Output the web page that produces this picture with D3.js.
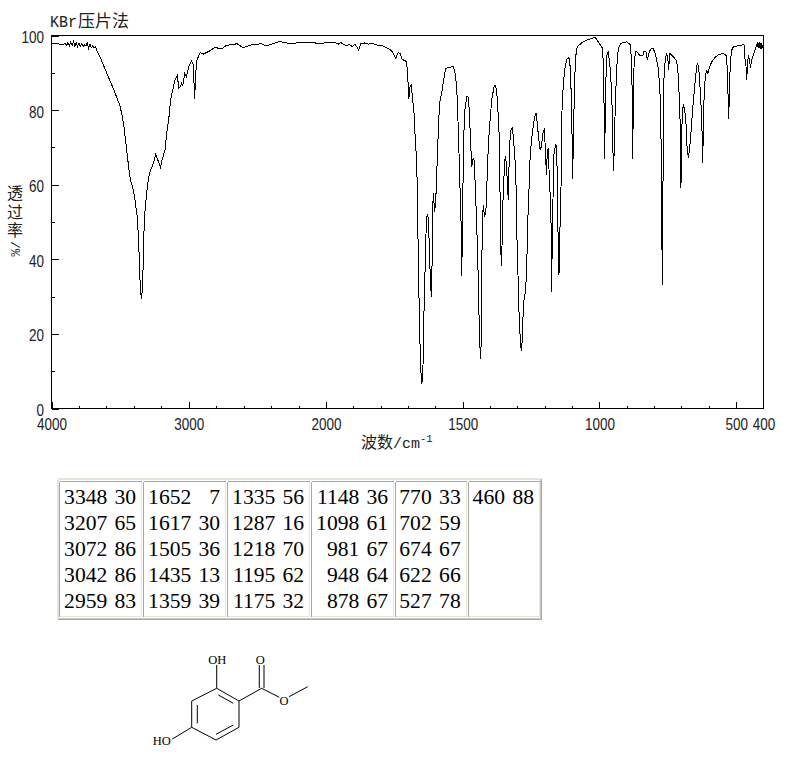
<!DOCTYPE html>
<html><head><meta charset="utf-8">
<script src="https://cdn.jsdelivr.net/npm/d3@7"></script>
<style>
html,body{margin:0;padding:0;background:#fff;overflow:hidden}
svg{display:block}
.tk{font-family:"Liberation Sans",sans-serif;font-size:16.5px;fill:#222}
.cjk{font-family:"Noto Sans CJK SC",sans-serif;fill:#222}
.mono{font-family:"Liberation Mono",monospace;fill:#222}
.cell{font-family:"Liberation Serif",serif;font-size:21.6px;fill:#000}
.atom{font-family:"Liberation Serif",serif;font-size:12.5px;fill:#000}
</style></head><body>
<svg id="c" width="794" height="765"></svg>
<script>
const title = "压片法";
const yTitleChars = ["透","过","率"];
const yTitleUnit = "/%";
const xMajor = [4000,3000,2000,1500,1000,500];
const xMinor = [3800,3600,3400,3200,2800,2600,2400,2200,1900,1800,1700,1600,1400,1300,1200,1100,900,800,700,600];
const xLabelled = [4000,3000,2000,1500,1000,500,400];
const yMajor = [0,20,40,60,80,100];
const yMinor = [10,30,50,70,90];

// [wavenumber, %T]
const spectrum = [
[4000,98.0],[3980,97.9],[3960,97.8],[3940,97.7],[3920,97.6],[3900,97.8],[3890,97.4],[3880,98.1],[3870,97.3],[3860,98.3],[3850,97.3],[3840,98.4],[3830,97.2],[3820,98.2],[3810,97.1],[3800,97.9],[3790,97.0],[3780,97.8],[3770,97.1],[3760,97.5],[3750,97.2],[3740,98.0],[3730,96.6],[3720,97.7],[3710,96.7],[3700,97.3],[3690,96.8],[3680,97.0],[3671,96.1],
[3647,94.3],[3622,92.1],[3586,88.9],[3550,85.8],[3521,83.1],[3501,81.1],[3486,78.7],[3472,75.5],[3452,69.3],[3433,63.1],[3421,60.8],[3404,58.6],[3392,55.9],[3375,51.4],[3367,46.0],[3360,39.8],[3355,34.4],[3349,30.9],[3346,29.5],
[3338,31.7],[3331,39.8],[3324,50.5],[3314,55],[3302,59.4],[3287,63],[3270,64.6],[3258,65.7],[3241,68.1],[3229,67.0],[3205,64.6],[3195,66.6],[3173,69.3],[3161,73.8],[3144,78.2],[3132,82.7],[3117,85.4],[3100,88.1],[3083,89.4],[3073,85.8],[3062,86.2],[3051,87.3],[3044,86.4],[3030,89.8],[3018,88.9],[2996,92.1],[2979,93.1],[2967,92.1],[2957,83.1],[2949,89.9],[2940,93.4],
[2918,95.4],[2894,95.0],[2845,95.9],[2809,96.8],[2760,96.4],[2723,97.4],[2663,97.6],[2651,97.9],[2603,96.7],[2554,97.4],[2469,97.8],[2440,97.2],[2396,97.7],[2335,98.4],[2287,98],[2239,97.9],[2190,98.1],[2093,98.1],[2050,97.8],[2010,98],
[1967,98.1],[1955,97.7],[1946,98.1],[1924,97.2],[1915,97.7],[1904,97],[1894,97.7],[1880,96.1],[1872,97.9],[1857,98],[1845,97.7],[1829,97.9],[1821,97.5],[1796,97.3],[1772,96.5],[1760,95.9],[1745,93.9],[1736,95.4],[1729,95.2],[1721,93.6],[1705,93],[1701,88.9],[1697,83.1],[1693,86.2],[1688,86.7],[1683,82.7],[1678,79.1],
[1674,72.8],[1668,65.7],[1665,53],[1661,33.5],[1656,16.5],[1652,8.5],[1650,6.5],[1646,8.5],[1642,25],[1637,38.9],[1633,50.5],[1629,52.1],[1626,51],[1623,45.1],[1620,38],[1615,29.8],[1612,39.3],[1610,54],[1607,57.7],[1603,52.7],[1599,55],[1591,71],[1585,81.8],[1577,84.5],[1571,87.6],[1562,91.2],[1546,91.5],[1534,91.8],[1528,89.8],[1522,86.2],[1516,74.6],[1510,59.4],[1506,49.6],[1504,35.5],
[1500,49.6],[1498,70.2],[1492,80],[1485,83.6],[1481,83.8],[1476,80],[1471,71.1],[1467,64.8],[1464,66.6],[1459,67],[1455,61.2],[1449,50],[1443,34.4],[1439,20.1],[1435,13.4],[1431,20],[1429,48],[1425,54.5],[1420,51.4],[1415,53.2],[1412,59.4],[1406,71.1],[1400,77.3],[1394,82.7],[1385,86.5],[1379,86.5],[1373,82.7],[1367,73.8],[1364,60.3],[1361,44.3],[1359,38.3],
[1356,44.3],[1354,53.2],[1351,59.4],[1346,66.6],[1343,67.6],[1339,63.9],[1335,57.7],[1333,55.9],[1331,63.9],[1328,71.1],[1323,75.1],[1318,75.3],[1313,71.1],[1308,65.7],[1304,57.7],[1302,46.9],[1298,36.2],[1294,25.5],[1290,19.2],[1286,15.5],[1282,18.3],[1278,28.2],[1270,31.7],[1266,37.6],[1262,50.5],[1258,58],[1253,68.5],[1247,72.8],[1241,76.4],[1235,78.7],[1232,79.3],[1227,76.4],[1223,72.8],[1217,69.5],[1212,70.2],[1207,73.8],[1201,75.1],[1198,69.3],[1195,64.8],[1194,62.6],[1192,66.6],[1188,69.7],[1186,66.6],[1182,60.3],[1178,53.2],[1176,45.1],[1175,31.3],
[1173,42.5],[1170,53.2],[1169,66.6],[1164,69.3],[1159,70.9],[1155,64.8],[1153,49.2],[1149,44.3],[1148,35.7],[1146,44.3],[1141,55.9],[1138,78.2],[1132,87.2],[1126,91.2],[1120,93.6],[1114,94.1],[1109,93.6],[1105,88.9],[1101,77.3],[1098,61.4],[1094,77.3],[1090,88.9],[1087,94.3],[1081,97],[1065,98],[1046,98.8],[1028,99.2],[1016,99.5],[1004,98.3],[988,96.5],
[984,86.7],[981,66.9],[977,86.7],[973,94.7],[968,95.6],[964,93.4],[959,89.8],[954,81.3],[951,69.7],[948,63.6],[946,69.7],[942,81.3],[937,91.2],[931,96.5],[921,97.9],[900,98.3],[888,97.6],[883,93.9],[881,87.6],[878,67],[876,87.6],[872,93.9],[866,95.9],[858,95.2],[851,94.5],[841,94.6],[837,95.8],[830,95.8],[825,93.4],[818,95.6],[811,96.4],[803,96.5],[794,94.7],[785,91.2],[781,87.6],[776,81.3],[774,66.1],[770,33],[767,66],[766,81.3],[764,88.5],[759,93.9],[754,95.2],[750,93.9],[747,90.7],[744,93.9],[742,95.2],[730,94.3],[720,93.4],[714,91.6],[710,86.7],[706,79.5],[704,74.2],[702,59],[699,74.2],[696,80.5],[693,81.3],[688,80],[683,76],[680,70.6],[675,67.3],[670,69.7],[665,74.2],[659,80.5],[650,87.6],[644,92],[640,92.5],[636,90.3],[631,84.9],[626,77.8],[622,65.7],[620,77.8],[616,85.8],[612,89.4],[607,90.7],[604,89.6],[599,91.2],[589,93],[577,94.1],[565,94.9],[547,95.2],[537,94.7],[532,91.2],[530,84.9],[527,77.6],[525,84.9],[521,93],[516,96.1],[510,97],[497,97.2],[491,97.4],[483,97.2],[475,97.7],[470,97.4],[468,93.9],[465,93],[461,88],[459,93],[455,94.3],[451,93.4],[448,91.3],[444,93],[440,94.3],[435,95.2],[429,96.7],[423,97.9],[419,96.7],[416,98.1],[412,96.5],[409,97.9],[406,96.5],[403,97.4],[401,96.4]
];

// peak table, one list per table column
const peakWavenumbers = [
 [3348,3207,3072,3042,2959],[1652,1617,1505,1435,1359],[1335,1287,1218,1195,1175],
 [1148,1098,981,948,878],[770,702,674,622,527],[460]];
const peakValues = [
 [30,65,86,86,83],[7,30,36,13,39],[56,16,70,62,32],
 [36,61,67,64,67],[33,59,67,66,78],[88]];

// methyl 2,4-dihydroxybenzoate line drawing
const bonds = [
 [216.7,688.3,239,701],[239,701,239,727.3],[239,727.3,216,740],[216,740,191.7,727.3],[191.7,727.3,191.7,701],[191.7,701,216.7,688.3],
 [197.3,705,197.3,723.3],[218.3,695,233.3,703.3],[233.3,725,216,734.3],
 [216.7,688.3,216.7,665],[191.7,727.3,172.3,739],[239,701,261.7,688.3],
 [259.3,665,259.3,688],[264,665,264,688],[261.7,688.3,279.3,697.3],[289,696.7,307.7,686.7]];
const atoms = [["OH",217.3,663.5],["HO",161.7,744.5],["O",260.3,663.5],["O",284,704.5]];

const svg = d3.select("#c");
const m = {l:51.5,r:763.5,t:35.5,b:408.5};
const x = d3.scaleLinear().domain([4000,2000,400]).range([m.l,326,m.r]);
const y = d3.scaleLinear().domain([0,100]).range([m.b,m.t]);

// axes
function noDomain(g){g.select(".domain").remove();}
const crisp = g => g.selectAll("line").attr("shape-rendering","crispEdges").attr("stroke","#000");
svg.append("g").attr("transform",`translate(0,${m.b})`)
  .call(d3.axisBottom(x).tickValues(xMajor).tickSize(-7).tickFormat("")).call(noDomain).call(crisp);
svg.append("g").attr("transform",`translate(0,${m.b})`)
  .call(d3.axisBottom(x).tickValues(xMinor).tickSize(-3).tickFormat("")).call(noDomain).call(crisp);
svg.append("g").attr("transform",`translate(${m.l},0)`)
  .call(d3.axisLeft(y).tickValues(yMajor).tickSize(-7).tickFormat("")).call(noDomain).call(crisp);
svg.append("g").attr("transform",`translate(${m.l},0)`)
  .call(d3.axisLeft(y).tickValues(yMinor).tickSize(-3).tickFormat("")).call(noDomain).call(crisp);
svg.append("rect").attr("x",m.l).attr("y",m.t).attr("width",m.r-m.l).attr("height",m.b-m.t)
  .attr("fill","none").attr("stroke","#000").attr("shape-rendering","crispEdges");

// condensed tick labels: 7.5px per digit
svg.selectAll("text.xl").data(xLabelled).join("text").attr("class","tk xl")
  .attr("x",d=>x(d)+0.5).attr("y",430).attr("text-anchor","middle")
  .attr("textLength",d=>String(d).length*7.5).attr("lengthAdjust","spacingAndGlyphs").text(d=>d);
svg.selectAll("text.yl").data(yMajor).join("text").attr("class","tk yl")
  .attr("x",44).attr("y",d=>y(d)+7.5).attr("text-anchor","end")
  .attr("textLength",d=>String(d).length*7.5).attr("lengthAdjust","spacingAndGlyphs").text(d=>d);

// spectrum
svg.append("path").datum(spectrum).attr("fill","none").attr("stroke","#000").attr("stroke-width",1)
  .attr("shape-rendering","crispEdges")
  .attr("d",d3.line().x(d=>x(d[0])).y(d=>y(d[1])));

// title and axis titles
const t = svg.append("text").attr("x",50).attr("y",27);
t.append("tspan").attr("class","mono").attr("font-size",16).attr("textLength",27).attr("lengthAdjust","spacingAndGlyphs").text("KBr");
t.append("tspan").attr("class","cjk").attr("font-size",17).attr("dx",1).text(title);

const yt = svg.append("text").attr("class","cjk").attr("font-size",16).attr("text-anchor","middle");
yt.selectAll("tspan").data(yTitleChars).join("tspan")
  .attr("x",15).attr("y",(d,i)=>199+i*18.5).text(d=>d);
svg.append("text").attr("class","mono").attr("font-size",13)
  .attr("transform","translate(11,241) rotate(90)").text(yTitleUnit);

const xt = svg.append("text").attr("x",361).attr("y",448);
xt.append("tspan").attr("class","cjk").attr("font-size",16).text("波数");
xt.append("tspan").attr("class","mono").attr("font-size",15).text("/cm");
xt.append("tspan").attr("class","mono").attr("font-size",10.5).attr("dy",-6).text("-1");

// peak table
const colEdges = [[59.5,141.5],[143.5,225.5],[227.5,309.5],[311.5,393.5],[395.5,466.5],[468.5,539.5]];
const wnRight = [107.3,191.3,275.3,359.3,431.7,505];
const valRight = [136,220,304,388,460.7,534];
const rowY = d3.scaleLinear().domain([0,4]).range([504,608]);
function bevel(g,x0,y0,x1,y1,tl,br){
  const seg=[[x0,y0,x1,y0,tl],[x0,y0,x0,y1,tl],[x1,y0,x1,y1,br],[x0,y1,x1,y1,br]];
  g.selectAll(null).data(seg).join("line").attr("x1",d=>d[0]).attr("y1",d=>d[1]).attr("x2",d=>d[2]).attr("y2",d=>d[3])
   .attr("stroke",d=>d[4]).attr("shape-rendering","crispEdges");
}
const tb = svg.append("g");
bevel(tb.append("g"),57.5,478.5,541.5,619.5,"#e6e5dc","#a8a89c");
bevel(tb.append("g"),58.5,479.5,540.5,618.5,"#e6e5dc","#c8c8be");
peakWavenumbers.forEach((col,i)=>{
  const [a,b]=colEdges[i];
  bevel(tb.append("g"),a,481.5,b,616.5,"#a8a89c","#e6e5dc");
  tb.selectAll(null).data(col).join("text").attr("class","cell").attr("x",wnRight[i]).attr("y",(d,j)=>rowY(j))
    .attr("text-anchor","end").text(d=>d);
  tb.selectAll(null).data(peakValues[i]).join("text").attr("class","cell").attr("x",valRight[i]).attr("y",(d,j)=>rowY(j))
    .attr("text-anchor","end").text(d=>d);
});

// structure
svg.append("g").selectAll("line").data(bonds).join("line")
  .attr("x1",d=>d[0]).attr("y1",d=>d[1]).attr("x2",d=>d[2]).attr("y2",d=>d[3])
  .attr("stroke","#000").attr("stroke-width",1);
svg.append("g").selectAll("text").data(atoms).join("text").attr("class","atom")
  .attr("x",d=>d[1]).attr("y",d=>d[2]).attr("text-anchor","middle").text(d=>d[0]);
</script>
</body></html>
